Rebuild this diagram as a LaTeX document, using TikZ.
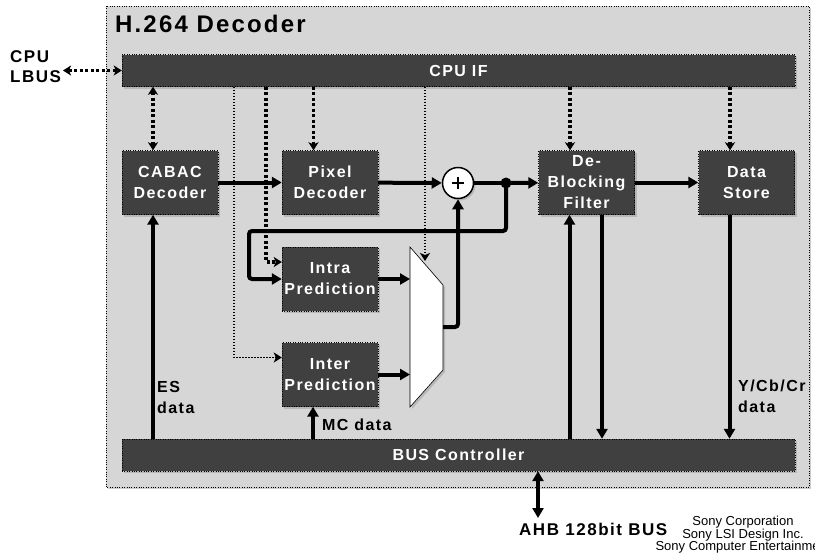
\documentclass[tikz,border=0pt]{standalone}
\usepackage{fontspec}
\setmainfont{Liberation Sans}
\newfontfamily\wideface{Liberation Sans}[LetterSpace=9]
\usetikzlibrary{arrows.meta, positioning, calc, shadows}
\definecolor{panelgray}{RGB}{214,214,214}
\definecolor{blockgray}{RGB}{64,64,64}

\begin{document}
\begin{tikzpicture}[x=1pt,y=-1pt,
  >={Stealth[length=8pt,width=10pt,inset=2pt]},
  shade/.style={drop shadow={shadow xshift=2pt, shadow yshift=-2pt, fill=gray!80}},
  block/.style={draw, dotted, fill=blockgray, text=white, shade,
    font=\wideface\bfseries\fontsize{16}{21}\selectfont, align=center,
    minimum width=96pt, minimum height=64pt, inner sep=0pt},
  bar/.style={block, minimum width=673pt, minimum height=32pt},
  lbl/.style={font=\wideface\bfseries\fontsize{16}{21}\selectfont, align=left, inner sep=0pt},
  flow/.style={line width=4pt, -{Triangle[length=10pt,width=11pt]}},
  flow2/.style={line width=4pt, {Triangle[length=10pt,width=11pt]}-{Triangle[length=10pt,width=11pt]}},
  ctrl/.style={line width=3.5pt, dash pattern=on 3pt off 2.5pt, ->},
  hint/.style={line width=1.5pt, dash pattern=on 1.5pt off 1.5pt, ->},
]
\useasboundingbox (0,0) rectangle (815,558);
% Decoder panel
\draw[dotted, fill=panelgray, shade] (106,6) rectangle (809,487);
\node[anchor=base west, inner sep=0pt, font=\wideface\bfseries\fontsize{24}{28}\selectfont] (title) at (115,32) {H.264 Decoder};

% Bars and blocks
\node[bar] (cpu) at (458.5,70.5) {CPU IF};
\node[bar] (bus) at (458.5,455) {BUS Controller};
\node[block] (cabac) at (170,182.5) {CABAC\\Decoder};
\node[block] (pixel) at (330,182.5) {Pixel\\Decoder};
\node[block] (dbf) at (586.5,182.5) {De-\\Blocking\\Filter};
\node[block] (store) at (746.5,182.5) {Data\\Store};
\node[block] (intra) at (330,279) {Intra\\Prediction};
\node[block] (inter) at (330,374.5) {Inter\\Prediction};

% Adder, junction and selector
\node[circle, draw, fill=white, line width=1.5pt, minimum size=31pt, inner sep=0pt, shade] (add) at (458,183) {};
\draw[line width=1.5pt] ([xshift=-6pt]add.center) -- ([xshift=6pt]add.center);
\draw[line width=1.5pt] ([yshift=-6pt]add.center) -- ([yshift=6pt]add.center);
\node[circle, fill, minimum size=11pt, inner sep=0pt] (jn) at (506,183) {};
\draw[fill=white, line width=0.6pt, shade] (410,247) coordinate (muxA) -- (443,285) -- (443,370) -- (410,407) -- cycle;
\coordinate (muxOut) at (443,327);
\coordinate (muxSel) at (425,261);
\coordinate (fb) at (249,231);

% Data path
\draw[flow] (cabac) -- (pixel);
\draw[flow] (pixel) -- (add);
\draw[line width=4pt] (add) -- (jn.center);
\draw[flow] (jn.center) -- (dbf);
\draw[flow] (dbf) -- (store);
\draw[flow, rounded corners=3pt] (jn.center) |- (fb) |- (intra.west);
\draw[flow] (intra) -- (intra -| muxA);
\draw[flow] (inter) -- (inter -| muxA);
\draw[flow, rounded corners=3pt] (muxOut) -| (add);

% Bus links
\draw[flow] ([xshift=-17pt]cabac.south |- bus.north) -- ([xshift=-17pt]cabac.south);
\draw[flow] ([xshift=-17pt]inter.south |- bus.north) -- ([xshift=-17pt]inter.south);
\draw[flow] ([xshift=-17pt]dbf.south |- bus.north) -- ([xshift=-17pt]dbf.south);
\draw[flow] ([xshift=15.5pt]dbf.south) -- ([xshift=15.5pt]dbf.south |- bus.north);
\draw[flow] ([xshift=-17pt]store.south) -- ([xshift=-17pt]store.south |- bus.north);
\coordinate (ahbEnd) at (538,518);
\draw[flow2] (bus.south -| ahbEnd) -- (ahbEnd);

% Control from CPU IF
\draw[ctrl, <->] ([xshift=-17pt]cabac.north |- cpu.south) -- ([xshift=-17pt]cabac.north);
\foreach \n in {pixel,dbf,store}
  \draw[ctrl] ([xshift=-16.5pt]\n.north |- cpu.south) -- ([xshift=-16.5pt]\n.north);
\draw[hint] (234,0 |- cpu.south) |- ([yshift=17pt]inter.west);
\draw[ctrl] (266,0 |- cpu.south) |- ([yshift=17pt]intra.west);
\draw[hint] (muxSel |- cpu.south) -- (muxSel);

% Labels
\node[lbl, font=\wideface\bfseries\fontsize{17}{20}\selectfont, anchor=west] (lbus) at (10,67) {CPU\\LBUS};
\coordinate (lbusEnd) at (63,70.5);
\draw[ctrl, <->] (lbusEnd) -- (cpu.west);
\node[lbl, anchor=west] (es) at (157,397) {ES\\data};
\node[lbl, anchor=west] (mc) at (322,425) {MC data};
\node[lbl, anchor=west] (ycc) at (738,396) {Y/Cb/Cr\\data};
\node[lbl, font=\wideface\bfseries\fontsize{17}{20}\selectfont, anchor=base west] (ahb) at (519,535) {AHB 128bit BUS};
\node[align=center, inner sep=0pt, anchor=north, font=\fontsize{13}{12.5}\selectfont] (sony) at (743,516) {Sony Corporation\\Sony LSI Design Inc.\\Sony Computer Entertainment};
\end{tikzpicture}
\end{document}
